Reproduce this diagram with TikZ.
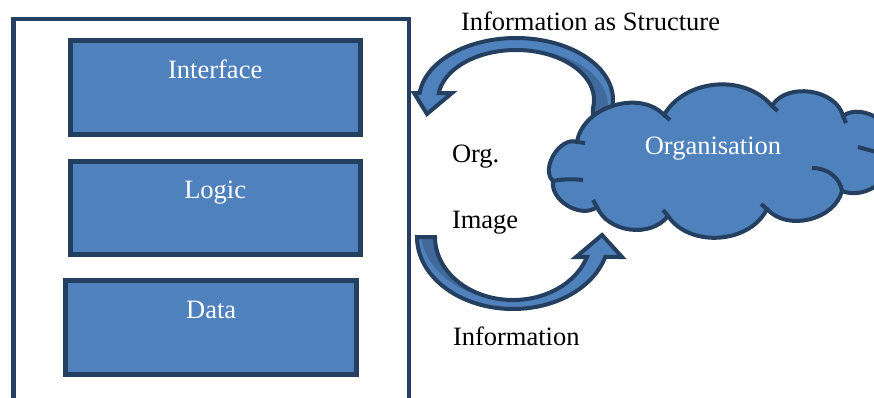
\documentclass[tikz,border=0pt]{standalone}
\usepackage{fontspec}
\setmainfont{Liberation Serif}
\definecolor{shapeblue}{HTML}{4F81BD}
\definecolor{shapedark}{HTML}{41699C}
\definecolor{shapeline}{HTML}{243F60}
\begin{document}
\begin{tikzpicture}[x=1pt, y=-1pt,
  every node/.style={outer sep=0pt},
  outerframe/.style={draw=shapeline, line width=4.5pt, inner sep=0pt,
    minimum width=395.5pt, minimum height=420pt},
  layerbox/.style={draw=shapeline, fill=shapeblue, line width=5pt, inner sep=0pt},
  txt/.style={font=\fontsize{26.5}{32}\selectfont, inner sep=0pt},
  boxlabel/.style={txt, text=white, anchor=base},
  sidelabel/.style={txt, text=black, anchor=base west},
  bandline/.style={draw=shapeline, line width=4pt, line join=miter},
  cloudline/.style={draw=shapeline, line width=4pt, line join=round},
  cloudtick/.style={draw=shapeline, line width=4pt, line cap=butt}]

\clip (0,0) rectangle (874,397);

% application frame and its three layers
\node[outerframe, anchor=north west] (system) at (13.5,19) {};
\node[layerbox, minimum width=290pt, minimum height=94pt] (iface) at (215.2,87.2) {};
\node[layerbox, minimum width=290pt, minimum height=93.5pt] (logic) at (215.2,207.8) {};
\node[layerbox, minimum width=291.3pt, minimum height=93.7pt] (data) at (211.2,327.4) {};
\node[boxlabel] (ifacetext) at ([yshift=-37.8pt]iface.north) {Interface};
\node[boxlabel] (logictext) at ([yshift=-37.8pt]logic.north) {Logic};
\node[boxlabel] (datatext) at ([yshift=-37.8pt]data.north) {Data};

% upper curved arrow: from the organisation back to the system
\fill[shapedark] (414,93) -- (427,114) -- (452,93)
  -- plot[domain=-172:10, samples=80] ({516+78*cos(\x)},{100+50*sin(\x)})
  -- (592.8,140) -- (611.5,140)
  -- plot[domain=10:-173.5, samples=80] ({516+97*cos(\x)},{100+62*sin(\x)}) -- cycle;
\fill[shapeblue] (414,93) -- (427,114) -- (452,93)
  -- plot[domain=-172:-90, samples=50] ({516+78*cos(\x)},{100+50*sin(\x)})
  -- plot[domain=-90:10, samples=60] ({516+(78+15*(\x+90)/100)*cos(\x)},{100+(50+8*(\x+90)/100)*sin(\x)})
  -- (607.6,140) -- (611.5,140)
  -- plot[domain=10:-173.5, samples=80] ({516+97*cos(\x)},{100+62*sin(\x)}) -- cycle;
\draw[bandline] (414,93) -- (427,114) -- (452,93)
  -- plot[domain=-172:10, samples=80] ({516+78*cos(\x)},{100+50*sin(\x)})
  -- (592.8,140) -- (611.5,140)
  -- plot[domain=10:-173.5, samples=80] ({516+97*cos(\x)},{100+62*sin(\x)}) -- cycle;

% lower curved arrow: from the system to the organisation
\fill[shapedark] (417,237)
  -- plot[domain=180:16.1, samples=80] ({513+96*cos(\x)},{237+72*sin(\x)})
  -- (622,257) -- (602,235) -- (576,257)
  -- plot[domain=18.5:180, samples=80] ({513+78*cos(\x)},{237+63*sin(\x)}) -- cycle;
\fill[shapeblue] plot[domain=180:16.1, samples=80] ({513+96*cos(\x)},{237+72*sin(\x)})
  -- (622,257) -- (602,235) -- (576,257)
  -- plot[domain=18.5:90, samples=40] ({513+78*cos(\x)},{237+63*sin(\x)})
  -- plot[domain=90:180, samples=50] ({513+(78+14*(\x-90)/90)*cos(\x)},{237+(63+6*(\x-90)/90)*sin(\x)}) -- cycle;
\draw[bandline] (417,237)
  -- plot[domain=180:16.1, samples=80] ({513+96*cos(\x)},{237+72*sin(\x)})
  -- (622,257) -- (602,235) -- (576,257)
  -- plot[domain=18.5:180, samples=80] ({513+78*cos(\x)},{237+63*sin(\x)}) -- cycle;

% organisation cloud
\path[fill=shapeblue, cloudline] (577,142) to[bend left=64] (664,115)
  to[bend left=55] (772,106) to[bend left=68] (843,116)
  to[bend left=70] (895,150) to[bend left=60] (842,191)
  to[bend left=62] (767,209) to[bend left=60] (668,216)
  to[bend left=60] (597,207) to[bend left=68] (553,181)
  to[bend left=78] (577,142) -- cycle;
\draw[cloudtick] (842,191) .. controls (840,178) and (828,168) .. (812,168);
\draw[cloudtick] (553,181) .. controls (562,179) and (574,179) .. (583,180);
\draw[cloudtick] (858,147) -- (880,153);
\draw[cloudtick] (664,115) -- (670,120);
\draw[cloudtick] (772,106) -- (777.6,111);
\draw[cloudtick] (843,116) -- (846,123);
\draw[cloudtick] (767,209) -- (761,204);
\draw[cloudtick] (668,216) -- (663,210);
\draw[cloudtick] (597,207) -- (593,200);
\draw[cloudtick] (577,142) -- (585,143);
\node[boxlabel] (orgtext) at (713,154) {Organisation};

% captions beside the arrows
\node[sidelabel] (structure) at (461,30) {Information as Structure};
\node[sidelabel] (orgline) at (452,162) {Org.};
\node[sidelabel] (imageline) at (452,228.5) {Image};
\node[sidelabel] (information) at (453,345) {Information};
\end{tikzpicture}
\end{document}
